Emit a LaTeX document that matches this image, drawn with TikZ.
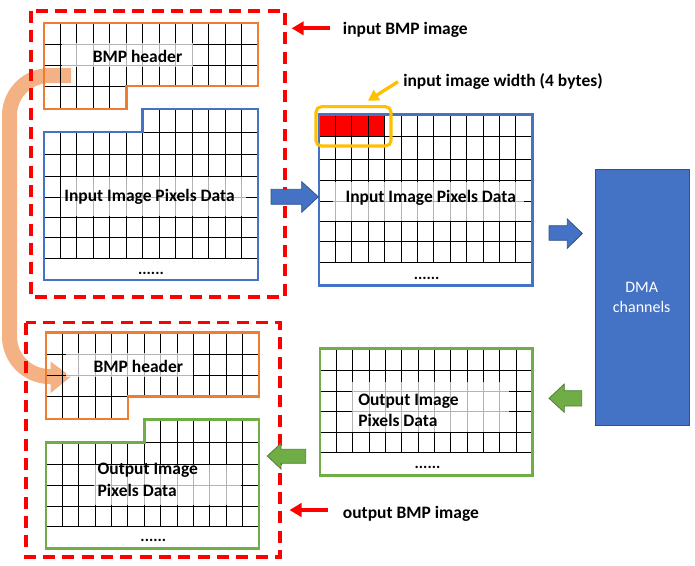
\documentclass[tikz,border=0pt]{standalone}
\usepackage{fontspec}
\setmainfont{Carlito}
\usetikzlibrary{arrows.meta}
\definecolor{hdr}{HTML}{ED7D31}
\definecolor{pblue}{HTML}{4472C4}
\definecolor{dblue}{HTML}{2F528F}
\definecolor{pgreen}{HTML}{70AD47}
\definecolor{dgreen}{HTML}{507E32}
\definecolor{gold}{HTML}{FFC000}
\definecolor{bandc}{HTML}{F4B183}
\begin{document}
\begin{tikzpicture}[x=0.75pt,y=-0.75pt,
  gridline/.style={line width=0.75pt,black},
  hdrbox/.style={draw=hdr,line width=2pt},
  bluebox/.style={draw=pblue,line width=2pt},
  greenbox/.style={draw=pgreen,line width=2pt},
  dashbox/.style={draw=red,line width=2.5pt,dash pattern=on 9pt off 5.5pt},
  veil/.style={fill=white,opacity=0.7},
  lbl/.style={font=\bfseries\fontsize{13.1}{15}\selectfont,inner sep=0pt},
  dots/.style={font=\bfseries\fontsize{12}{14}\selectfont,inner sep=0pt},
  dmalbl/.style={font=\fontsize{12}{14}\selectfont,text=white,inner sep=0pt},
  redarrow/.style={draw=red,line width=3pt,-{Triangle[length=9pt,width=10pt]}},
  goldarrow/.style={draw=gold,line width=2.5pt,-{Triangle[length=8pt,width=9pt]}},
  bandline/.style={draw=bandc,line width=11.25pt,rounded corners=30pt},
  bluearrow/.style={fill=pblue,draw=dblue,line width=0.6pt},
  greenarrow/.style={fill=pgreen,draw=dgreen,line width=0.6pt}
]
\useasboundingbox (0,0) rectangle (695,565);

% ---- orange band (behind everything)
\coordinate (bandS) at (71,75.5);
\coordinate (bandC1) at (9.5,75.5);
\coordinate (bandC2) at (9.5,376.5);
\coordinate (bandE) at (52,376.5);
\draw[bandline] (bandS) -- (bandC1) -- (bandC2) -- (bandE);
\fill[bandc] (50.7,361.7) -- (71,376.5) -- (50.7,393) -- cycle;

% ---- dashed frames
\draw[dashbox] (31,11) rectangle (285,297);
\draw[dashbox] (26,322.7) rectangle (280,557);

% ---- input BMP header
\begin{scope}
\clip (44,23) -- (258,23) -- (258,86) -- (126.3,86) -- (126.3,109) -- (44,109) -- cycle;
\foreach \k in {1,...,12} \draw[gridline] ({44+\k*16.46},23) -- ({44+\k*16.46},109);
\foreach \yy in {44.3,65.7,86} \draw[gridline] (44,\yy) -- (258,\yy);
\end{scope}
\fill[veil] (62,43) rectangle (193,67);
\draw[hdrbox] (44,23) -- (258,23) -- (258,86) -- (126.3,86) -- (126.3,109) -- (44,109) -- cycle;
\node[lbl,anchor=base] (hdrA) at (137.5,62.3) {BMP header};

% ---- input pixels (left)
\begin{scope}
\clip (142.8,109) -- (258,109) -- (258,280) -- (44,280) -- (44,132) -- (142.8,132) -- cycle;
\foreach \k in {1,...,12} \draw[gridline] ({44+\k*16.46},109) -- ({44+\k*16.46},258);
\foreach \yy in {132,154,176,197,217,237,258} \draw[gridline] (44,\yy) -- (258,\yy);
\end{scope}
\fill[veil] (61,177.2) rectangle (246,215.8);
\draw[bluebox] (142.8,109) -- (258,109) -- (258,280) -- (44,280) -- (44,132) -- (142.8,132) -- cycle;
\node[lbl,anchor=base] (pixA) at (149.5,201) {Input Image Pixels Data};
\node[dots] (dotsA) at (151,273.3) {......};

% ---- middle input pixels
\fill[red] (319,114.3) rectangle ({319+4*16.41},136.7);
\foreach \k in {1,...,12} \draw[gridline] ({319+\k*16.41},114.3) -- ({319+\k*16.41},262.7);
\foreach \yy in {136.7,159,180.7,201,221.7,241.7,262.7} \draw[gridline] (319,\yy) -- (532.3,\yy);
\fill[veil] (333,181.9) rectangle (524,220.5);
\draw[bluebox] (319,114.3) rectangle (532.3,285.7);
\node[lbl,anchor=base] (pixB) at (430.8,202.7) {Input Image Pixels Data};
\node[dots] (dotsB) at (426.7,278.3) {......};
\draw[draw=gold,line width=2.3pt,rounded corners=4pt] (316,106.7) rectangle (391,146);
\node (widthbox) at (353.5,126.3) {};

% ---- width label
\node[lbl,anchor=base west] (widthlbl) at (403,86) {input image width (4 bytes)};
\coordinate (gaS) at (398,81.7);
\coordinate (gaE) at (368,100.7);
\draw[goldarrow] (gaS) -- (gaE);

% ---- red labels
\node[lbl,anchor=base west] (inlbl) at (342.7,34.3) {input BMP image};
\coordinate (ra1S) at (330,28.3);
\coordinate (ra1E) at (291.7,28.3);
\draw[redarrow] (ra1S) -- (ra1E);
\node[lbl,anchor=base west] (outlbl) at (342.7,518.3) {output BMP image};
\coordinate (ra2S) at (328,510);
\coordinate (ra2E) at (289.5,510);
\draw[redarrow] (ra2S) -- (ra2E);

% ---- DMA
\node[draw=dblue,fill=pblue,line width=0.6pt,minimum width=94*0.75pt,minimum height=256.4*0.75pt,inner sep=0pt] (dma) at (642.3,297.5) {};
\node[dmalbl,anchor=base] (dma1) at (641.7,292.3) {DMA};
\node[dmalbl,anchor=base] (dma2) at (641.7,312.7) {channels};

% ---- block arrows
\draw[bluearrow] (271,189.3) -- (301.7,189.3) -- (301.7,181.7) -- (318.3,196.8) -- (301.7,212.3) -- (301.7,204.3) -- (271,204.3) -- cycle;
\draw[bluearrow] (549,225.7) -- (567.3,225.7) -- (567.3,219) -- (582.3,233.5) -- (567.3,248.3) -- (567.3,240.3) -- (549,240.3) -- cycle;
\draw[greenarrow] (581.7,390.7) -- (564.3,390.7) -- (564.3,384) -- (549,398.3) -- (564.3,412.3) -- (564.3,406) -- (581.7,406) -- cycle;
\draw[greenarrow] (305.7,449.3) -- (281,449.3) -- (281,443.3) -- (267.3,456) -- (281,469) -- (281,463.3) -- (305.7,463.3) -- cycle;

% ---- middle output pixels
\foreach \k in {1,...,12} \draw[gridline] ({320+\k*16.36},348.3) -- ({320+\k*16.36},452.7);
\foreach \yy in {370.7,391.7,411.7,432.7,452.7} \draw[gridline] (320,\yy) -- (532.7,\yy);
\fill[veil] (352,382) rectangle (509,431.5);
\draw[greenbox] (320,348.3) rectangle (532.7,475.7);
\node[lbl,anchor=base west] (outD1) at (358,405) {Output Image};
\node[lbl,anchor=base west] (outD2) at (358,426.7) {Pixels Data};
\node[dots] (dotsD) at (427.5,467.3) {......};

% ---- output BMP header
\begin{scope}
\clip (46,332.7) -- (259,332.7) -- (259,396.7) -- (127.9,396.7) -- (127.9,419) -- (46,419) -- cycle;
\foreach \k in {1,...,12} \draw[gridline] ({46+\k*16.38},332.7) -- ({46+\k*16.38},419);
\foreach \yy in {354,375.5,396.7} \draw[gridline] (46,\yy) -- (259,\yy);
\end{scope}
\fill[veil] (66,353) rectangle (193,377);
\draw[hdrbox] (46,332.7) -- (259,332.7) -- (259,396.7) -- (127.9,396.7) -- (127.9,419) -- (46,419) -- cycle;
\node[lbl,anchor=base] (hdrE) at (138.3,372.3) {BMP header};

% ---- output pixels (left)
\begin{scope}
\clip (144.3,419.3) -- (259,419.3) -- (259,548.3) -- (46,548.3) -- (46,442.7) -- (144.3,442.7) -- cycle;
\foreach \k in {1,...,12} \draw[gridline] ({46+\k*16.38},419.3) -- ({46+\k*16.38},526);
\foreach \yy in {442.7,464,485,506,526} \draw[gridline] (46,\yy) -- (259,\yy);
\end{scope}
\fill[veil] (94,465) rectangle (241,505);
\draw[greenbox] (144.3,419.3) -- (259,419.3) -- (259,548.3) -- (46,548.3) -- (46,442.7) -- (144.3,442.7) -- cycle;
\node[lbl,anchor=base west] (outF1) at (97.3,474.3) {Output Image};
\node[lbl,anchor=base west] (outF2) at (97.3,496) {Pixels Data};
\node[dots] (dotsF) at (153.3,540) {......};
\end{tikzpicture}
\end{document}
